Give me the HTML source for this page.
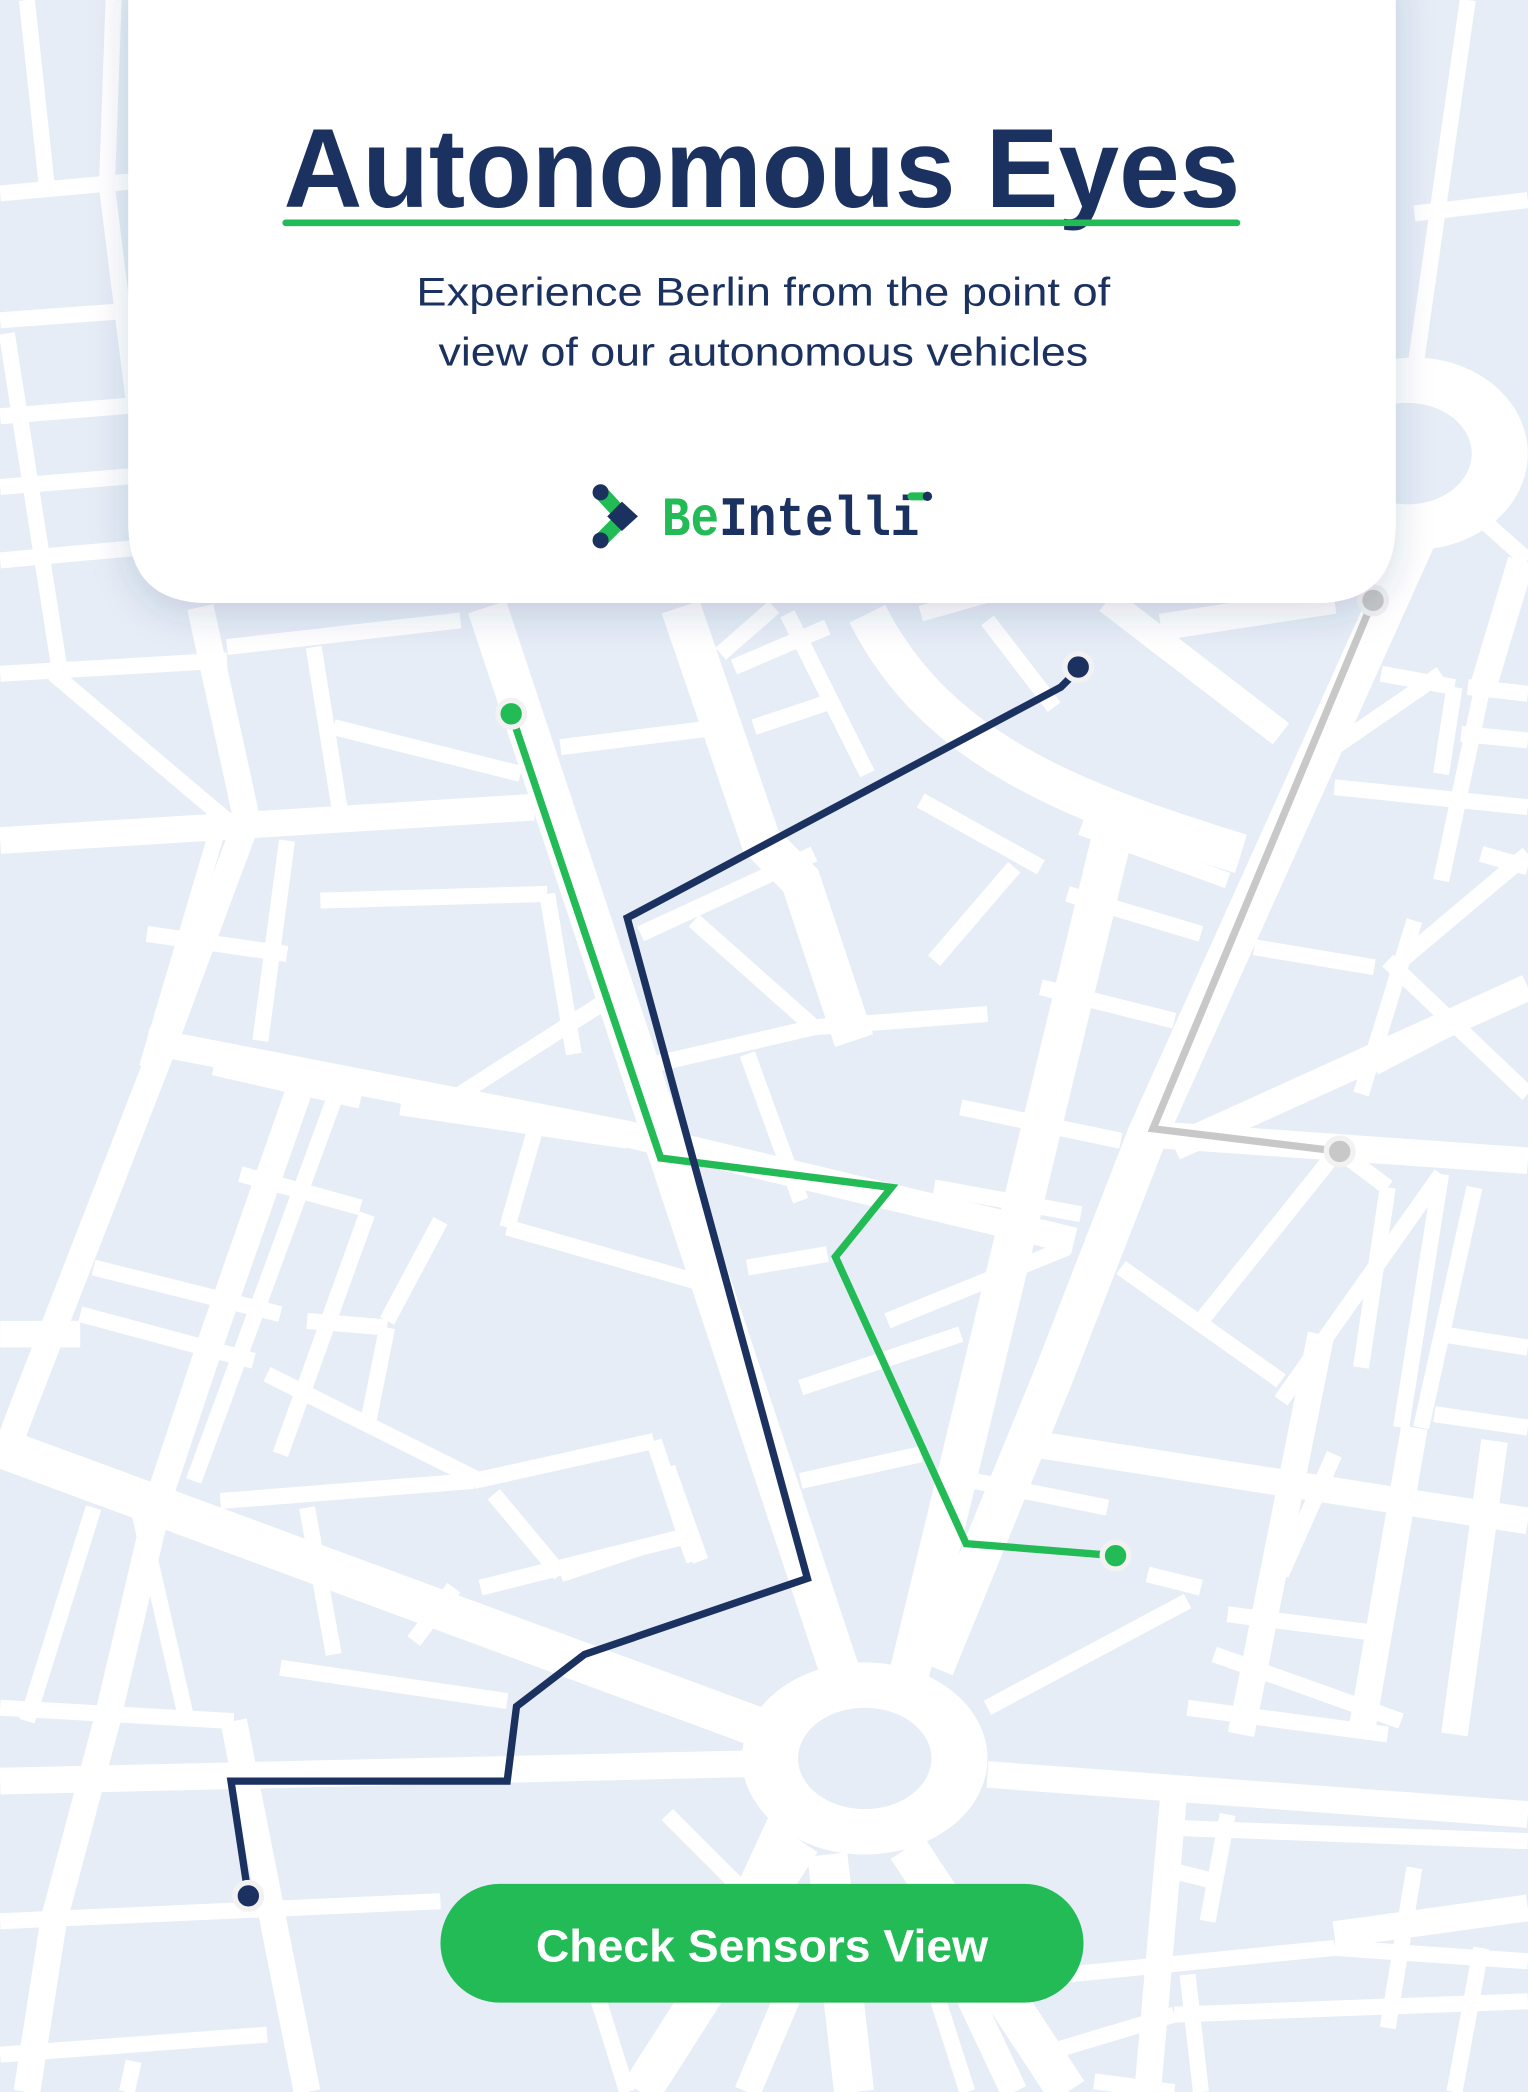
<!DOCTYPE html>
<html><head><meta charset="utf-8"><style>
html,body{margin:0;padding:0;background:#e6edf6;}
svg{display:block}
</style></head><body>
<svg width="1528" height="2092" viewBox="0 0 1145 1568" xmlns="http://www.w3.org/2000/svg">
<defs>
<filter id="sh" x="-10%" y="-10%" width="120%" height="130%"><feDropShadow dx="0" dy="8" stdDeviation="14" flood-color="#2a3f6a" flood-opacity="0.18"/></filter>
</defs>
<rect width="1145" height="1568" fill="#e6edf6"/>
<g stroke="#ffffff" fill="none" stroke-linecap="butt">
<g stroke-width="12">
<path d="M0 145 L110 135 M0 240 L110 232 M0 312 L110 303 M0 365 L110 356 M0 420 L110 410 M0 505 L170 495"/>
<path d="M40 505 L170 615 M20 0 L35 140 M85 0 L80 140 M80 140 L100 300 M5 250 L45 505"/>
<path d="M170 485 L345 465 M235 485 L255 610 M250 545 L390 580 M240 675 L410 670 M215 630 L195 780"/>
<path d="M110 700 L215 715 M165 615 L110 800 M160 800 L270 825 M250 825 L145 1110 M70 950 L210 985 M60 985 L190 1020"/>
<path d="M180 880 L270 905 M275 910 L210 1090 M230 990 L290 995 M290 995 L275 1070 M330 915 L290 990"/>
<path d="M200 1030 L360 1110 M165 1125 L355 1110 M370 1120 L420 1180 M420 1180 L480 1160 M355 1110 L490 1080 M490 1080 L520 1170"/>
<path d="M100 1115 L140 1290 M70 1130 L20 1290 M230 1130 L250 1240 M210 1250 L380 1275 M310 1230 L340 1190 M360 1190 L520 1150"/>
<path d="M0 1280 L175 1290 M0 1440 L330 1425 M0 1540 L200 1525 M100 1545 L95 1568 M430 1440 L470 1568 M500 1360 L560 1420"/>
<path d="M345 820 L470 740 M410 670 L430 790 M300 830 L470 855 M400 850 L380 920 M380 920 L520 960 M420 560 L540 545"/>
<path d="M540 490 L580 455 M550 500 L620 470 M590 460 L650 580 M565 545 L625 525 M480 700 L610 640 M520 690 L610 770 M610 770 L740 760"/>
<path d="M480 800 L610 770 M560 790 L600 900 M560 950 L620 940 M600 1040 L720 1000 M665 990 L800 935 M600 1110 L690 1090 M500 1100 L525 1170"/>
<path d="M690 460 L760 440 M740 465 L790 530 M690 600 L780 650 M700 720 L760 650 M700 890 L810 910 M780 840 L760 910 M720 830 L840 855"/>
<path d="M800 670 L900 700 M780 740 L880 765 M810 620 L920 660 M840 950 L960 1035 M900 990 L1000 865 M960 1050 L1080 880"/>
<path d="M1080 880 L1050 1070 M1105 890 L1065 1070 M1020 1025 L1040 890 M1040 890 L1000 860 M1020 820 L1060 690 M1050 720 L1145 640"/>
<path d="M1040 720 L1145 820 M1030 800 L1145 740 M940 710 L1030 725 M1000 590 L1145 605 M1000 560 L1080 505 M1035 505 L1090 515 M1090 515 L1080 580"/>
<path d="M1100 515 L1145 520 M1095 550 L1145 555 M1080 660 L1110 520 M1110 640 L1145 650 M1080 1000 L1145 1010 M1075 1060 L1145 1070"/>
<path d="M1000 1090 L960 1180 M920 1210 L1040 1225 M910 1240 L1050 1290 M890 1280 L1040 1300 M870 1400 L910 1410 M960 1345 L1030 1350"/>
<path d="M880 1370 L1145 1380 M920 1360 L905 1440 M1060 1400 L1040 1520 M1110 1460 L1090 1568 M800 1480 L1000 1460 M1000 1460 L1145 1470"/>
<path d="M880 1510 L1145 1500 M890 1480 L900 1568 M780 1540 L880 1510 M820 1560 L880 1568 M760 1520 L790 1568 M700 1490 L725 1568"/>
<path d="M1060 160 L1145 150 M1035 0 L1030 280 M1100 0 L1060 280 M1100 380 L1145 420"/>
<path d="M730 1110 L830 1130 M860 1180 L900 1190 M740 1280 L890 1200"/>
</g>
<g stroke-width="20">
<path d="M0 630 L400 605"/>
<path d="M150 455 L185 615 L120 790 L15 1060 L0 1100"/>
<path d="M110 780 L470 850 L805 930"/>
<path d="M0 1335 L560 1322"/>
<path d="M740 1330 L1145 1360"/>
<path d="M175 1290 L230 1568"/>
<path d="M230 800 L160 1000 L120 1120 L80 1290 L40 1440 L20 1568"/>
<path d="M0 1000 L60 1000"/>
<path d="M1140 420 L1110 520"/>
<path d="M760 1080 L1145 1140"/>
<path d="M880 1340 L860 1568"/>
<path d="M1145 1430 L1000 1450"/>
<path d="M990 1000 L930 1300 M1060 1070 L1020 1300 M1120 1080 L1090 1300"/>
<path d="M560 1420 L620 1290 M560 1568 L610 1450 M690 1420 L760 1568"/>
<path d="M830 450 L960 550 M870 470 L1000 450"/>
<path d="M1145 740 L880 860 M860 850 L1145 870"/>
<path d="M980 450 L1040 280"/>
</g>
<g stroke-width="30">
<path d="M365 455 L630 1255"/>
<path d="M835 620 L680 1260"/>
<path d="M1065 395 L860 850 L790 1030 L700 1250"/>
<path d="M0 1085 L610 1310"/>
<path d="M620 1390 L640 1568 M600 1380 L480 1568 M680 1385 L800 1568"/>
<path d="M510 455 L570 630 L600 660 L640 780"/>
<path d="M650 460 C700 560 800 600 930 640"/>
</g>
</g>
<ellipse cx="648" cy="1318" rx="92" ry="72" fill="#fff"/>
<ellipse cx="648" cy="1318" rx="50" ry="38" fill="#e6edf6"/>
<ellipse cx="1060" cy="340" rx="85" ry="72" fill="#fff"/>
<ellipse cx="1055" cy="340" rx="48" ry="38" fill="#e6edf6"/>

<g fill="none" stroke-linejoin="miter" stroke-width="5.5">
<polyline points="1029,450 864,846 1004,863" stroke="#c8c8c8"/>
<polyline points="383,535 495,868 668,890 626,942 724,1157 836,1166" stroke="#22bb55"/>
<polyline points="808,502 795,515 470,688 605,1183 438,1240 387,1279 380,1335 173,1335 186,1421" stroke="#1b3160"/>
</g>
<g stroke="#f2f2f2" stroke-width="4">
<circle cx="1029" cy="450" r="10" fill="#c8c8c8"/>
<circle cx="1004" cy="863" r="10" fill="#c8c8c8"/>
<circle cx="383" cy="535" r="10" fill="#22bb55"/>
<circle cx="836" cy="1166" r="10" fill="#22bb55"/>
<circle cx="808" cy="500" r="10" fill="#1b3160"/>
<circle cx="186" cy="1421" r="10" fill="#1b3160"/>
</g>

<path d="M96 -20 H1046 V392 Q1046 452 986 452 H156 Q96 452 96 392 Z" fill="#fff" filter="url(#sh)"/>
<text x="571" y="155" text-anchor="middle" font-family="Liberation Sans, sans-serif" font-weight="700" font-size="84" fill="#1b3160" textLength="717" lengthAdjust="spacingAndGlyphs">Autonomous Eyes</text>
<line x1="214" y1="167" x2="927" y2="167" stroke="#22bb55" stroke-width="5" stroke-linecap="round"/>
<text x="572" y="229" text-anchor="middle" font-family="Liberation Sans, sans-serif" font-size="30" fill="#1b3160" textLength="520" lengthAdjust="spacingAndGlyphs">Experience Berlin from the point of</text>
<text x="572" y="274" text-anchor="middle" font-family="Liberation Sans, sans-serif" font-size="30" fill="#1b3160" textLength="487" lengthAdjust="spacingAndGlyphs">view of our autonomous vehicles</text>
<g stroke-linecap="round" stroke-width="11">
<line x1="451" y1="370" x2="463" y2="383" stroke="#22bb55"/>
<line x1="463" y1="392" x2="451" y2="404" stroke="#22bb55"/>
</g>
<circle cx="450" cy="369" r="6" fill="#1b3160"/>
<circle cx="450" cy="405" r="6" fill="#1b3160"/>
<polygon points="466,376 478,387 466,398 455,387" fill="#1b3160"/>
<text x="496" y="401" font-family="Liberation Mono, monospace" font-weight="700" font-size="42" fill="#22bb55" textLength="193" lengthAdjust="spacingAndGlyphs">Be<tspan fill="#1b3160">Intelli</tspan></text>
<rect x="680" y="369" width="18" height="6" rx="3" fill="#22bb55"/>
<circle cx="695" cy="372" r="3.5" fill="#1b3160"/>

<rect x="330" y="1412" width="482" height="89" rx="44.5" fill="#22bb55"/>
<text x="571" y="1470" text-anchor="middle" font-family="Liberation Sans, sans-serif" font-weight="700" font-size="34" fill="#fff" textLength="339" lengthAdjust="spacingAndGlyphs">Check Sensors View</text>
</svg>
</body></html>
